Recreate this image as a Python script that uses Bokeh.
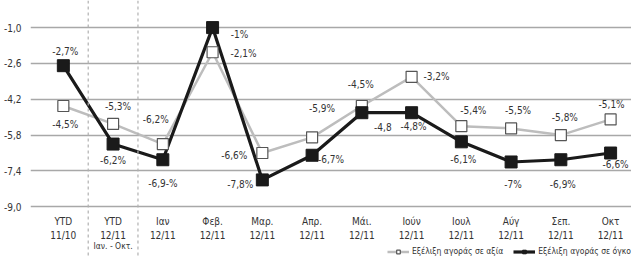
from bokeh.plotting import figure
from bokeh.models import FixedTicker, Span, Legend, LegendItem, ColumnDataSource
from bokeh.core.properties import value
from bokeh.embed import file_html
from bokeh.resources import INLINE

# ---- data ----
month_names = ["YTD", "YTD", "Ιαν", "Φεβ.", "Μαρ.", "Απρ.", "Μάι.", "Ιούν", "Ιουλ", "Αύγ", "Σεπ.", "Οκτ"]
period_names = ["11/10", "12/11", "12/11", "12/11", "12/11", "12/11", "12/11", "12/11", "12/11", "12/11", "12/11", "12/11"]
extra_names = ["", "Ιαν. - Οκτ.", "", "", "", "", "", "", "", "", "", ""]
value_series = [-4.5, -5.3, -6.2, -2.1, -6.6, -5.9, -4.5, -3.2, -5.4, -5.5, -5.8, -5.1]
volume_series = [-2.7, -6.2, -6.9, -1.0, -7.8, -6.7, -4.8, -4.8, -6.1, -7.0, -6.9, -6.6]
value_labels = ["-4,5%", "-5,3%", "-6,2%", "-2,1%", "-6,6%", "-5,9%", "-4,5%", "-3,2%", "-5,4%", "-5,5%", "-5,8%", "-5,1%"]
volume_labels = ["-2,7%", "-6,2%", "-6,9-%", "-1%", "-7,8%", "-6,7%", "-4,8", "-4,8%", "-6,1%", "-7%", "-6,9%", "-6,6%"]
y_ticks = [-1.0, -2.6, -4.2, -5.8, -7.4, -9.0]
y_tick_labels = ["-1,0", "-2,6", "-4,2", "-5,8", "-7,4", "-9,0"]
legend_value = "Εξέλιξη αγοράς σε αξία"
legend_volume = "Εξέλιξη αγοράς σε όγκο"

# ---- label offsets (screen px) ----
value_dx = [2, 5, -7, 31, -28, 10, -1, 25, 12, 7, 4, 1]
value_dy = [19, -17, -25, 1, 2, -29, -21, 0, -16, -18, -18, -15]
volume_dx = [2, 0, 0, 27, -22, 19, 21, 2, 2, 2, 2, 5]
volume_dy = [-14, 16, 24, 7, 5, 4, 14, 14, 18, 23, 25, 11]

FONT = "DejaVu Sans Condensed"
TXT = "#333333"

xs = list(range(len(month_names)))

p = figure(width=631, height=256, output_backend="svg", toolbar_location=None,
           x_range=(-0.66, 11.42), y_range=(-11.22, 0.21),
           min_border_left=27, min_border_right=0, min_border_top=0, min_border_bottom=0)
p.outline_line_color = None
p.background_fill_color = "white"
p.border_fill_color = "white"
p.xaxis.visible = False
p.xgrid.visible = False

p.yaxis.ticker = FixedTicker(ticks=y_ticks)
p.yaxis.major_label_overrides = {t: l for t, l in zip(y_ticks, y_tick_labels)}
p.yaxis.axis_line_color = None
p.yaxis.major_tick_line_color = None
p.yaxis.minor_tick_line_color = None
p.yaxis.major_label_standoff = 3
p.yaxis.major_label_text_font = FONT
p.yaxis.major_label_text_font_size = "10px"
p.yaxis.major_label_text_color = TXT
p.ygrid.ticker = FixedTicker(ticks=y_ticks)
p.ygrid.grid_line_color = "#a8a8a8"
p.ygrid.grid_line_width = 1.5

# dashed separators between the first categories
for i in (0, 1):
    p.add_layout(Span(location=(xs[i] + xs[i + 1]) / 2, dimension="height",
                      line_color="#b0b0b0", line_dash="3 3", line_width=1.2))

src = ColumnDataSource(dict(x=xs, v=value_series, o=volume_series,
                            vl=value_labels, ol=volume_labels,
                            vdx=value_dx, vdy=value_dy, odx=volume_dx, ody=volume_dy,
                            m=month_names, pn=period_names, ex=extra_names,
                            base=[y_ticks[-1]] * len(xs)))

gl = p.line("x", "v", source=src, line_color="#bdbdbd", line_width=2.5)
bl = p.line("x", "o", source=src, line_color="#1a1a1a", line_width=3.2)
gs = p.scatter("x", "v", source=src, marker="square", size=11,
               fill_color="white", line_color="#555555", line_width=1.2)
bs = p.scatter("x", "o", source=src, marker="square", size=12,
               fill_color="#1a1a1a", line_color="#1a1a1a")

common = dict(text_font=value(FONT), text_font_size="10px", text_color=TXT,
              text_align="center", text_baseline="middle")
p.text("x", "v", text="vl", x_offset="vdx", y_offset="vdy", source=src, **common)
p.text("x", "o", text="ol", x_offset="odx", y_offset="ody", source=src, **common)

# category labels below the bottom gridline
p.text("x", "base", text="m", y_offset=15, source=src, **common)
p.text("x", "base", text="pn", y_offset=29, source=src, **common)
p.text("x", "base", text="ex", y_offset=39,
       source=src, text_font=value(FONT), text_font_size="8.5px", text_color=TXT,
       text_align="center", text_baseline="middle")

legend = Legend(items=[LegendItem(label=legend_value, renderers=[gl, gs]),
                       LegendItem(label=legend_volume, renderers=[bl, bs])],
                orientation="horizontal", location="bottom_right",
                background_fill_alpha=0, border_line_color=None,
                label_text_font=FONT, label_text_font_size="8.5px",
                label_text_color=TXT, glyph_width=22, glyph_height=9,
                spacing=10, padding=0, margin=0, label_standoff=3,
                label_height=9)
p.add_layout(legend)

open("out.html", "w").write(file_html(p, INLINE))
